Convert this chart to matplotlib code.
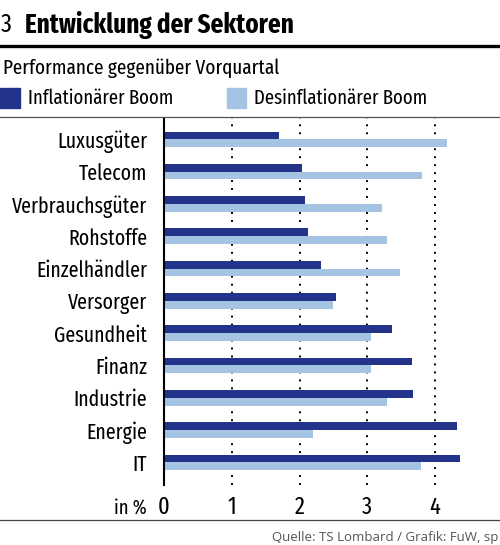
import numpy as np
import matplotlib
matplotlib.use("Agg")
import matplotlib.pyplot as plt

plt.rcParams['font.family'] = ['Fira Sans Extra Condensed', 'DejaVu Sans']

sectors = ["Luxusgüter", "Telecom", "Verbrauchsgüter", "Rohstoffe", "Einzelhändler",
           "Versorger", "Gesundheit", "Finanz", "Industrie", "Energie", "IT"]
inflation_boom = [1.69, 2.03, 2.08, 2.12, 2.31, 2.54, 3.37, 3.66, 3.68, 4.32, 4.37]
disinflation_boom = [4.17, 3.81, 3.22, 3.29, 3.49, 2.50, 3.05, 3.05, 3.29, 2.20, 3.79]
ticks = [0, 1, 2, 3, 4]

dark = "#24338a"
light = "#a5c3e3"

W, H = 500, 545
fig = plt.figure(figsize=(W / 100, H / 100), dpi=100)

def fx(px):
    return px / W

def fy(py):
    return 1 - py / H

# header
fig.text(fx(1), fy(25), "3", fontsize=19, va="center", ha="left")
fig.text(fx(25), fy(25), "Entwicklung der Sektoren", fontsize=19.5, fontweight="bold",
         va="center", ha="left")
fig.add_artist(plt.Line2D([0, 1], [fy(46), fy(46)], color="black", lw=2.4))
fig.text(fx(3), fy(68), "Performance gegenüber Vorquartal", fontsize=15,
         va="center", ha="left")

# legend
fig.add_artist(plt.Rectangle((fx(0), fy(108)), fx(20), 20 / H, color=dark))
fig.text(fx(28), fy(98), "Inflationärer Boom", fontsize=14.7, va="center", ha="left")
fig.add_artist(plt.Rectangle((fx(227), fy(108)), fx(19), 20 / H, color=light))
fig.text(fx(254), fy(98), "Desinflationärer Boom", fontsize=14.7, va="center", ha="left")
fig.add_artist(plt.Line2D([0, 1], [fy(117), fy(117)], color="#555555", lw=0.9))

# chart
ax = fig.add_axes([fx(164), fy(485), fx(332), (485 - 118) / H])
y = np.arange(len(sectors))
h = 0.24
ax.barh(y - h / 2, inflation_boom, height=h, color=dark, zorder=2)
ax.barh(y + h / 2, disinflation_boom, height=h, color=light, zorder=2)
for t in ticks[1:]:
    ax.axvline(t, color="black", lw=1.4, linestyle=(0, (1, 3.1)), zorder=1)
ax.set_xlim(0, 4.9)
ax.set_ylim(10.70, -0.66)
ax.set_yticks(y)
ax.set_yticklabels(sectors, fontsize=15.5)
ax.set_xticks(ticks)
ax.set_xticklabels([str(t) for t in ticks], fontsize=17.5)
ax.tick_params(length=0)
ax.tick_params(axis="x", pad=8)
ax.tick_params(axis="y", pad=12)
for s in ["top", "right", "bottom"]:
    ax.spines[s].set_visible(False)
ax.spines["left"].set_linewidth(1.5)
ax.patch.set_alpha(0)

fig.text(fx(147), fy(508), "in %", fontsize=14.5, va="center", ha="right")
fig.add_artist(plt.Line2D([0, 1], [fy(520), fy(520)], color="#444444", lw=0.9))
fig.text(fx(272), fy(537), "Quelle: TS Lombard / Grafik: FuW, sp", fontsize=9.5,
         family="Open Sans", color="#555555", va="center", ha="left")

fig.savefig("out.png", dpi=100)
